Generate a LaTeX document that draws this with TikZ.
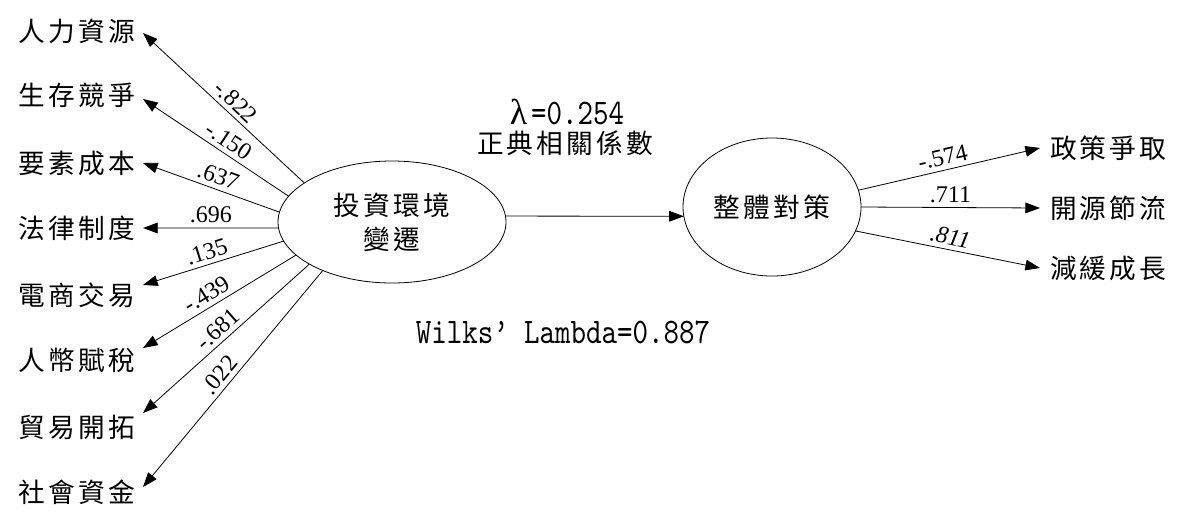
\documentclass[tikz,border=0pt]{standalone}
\usepackage{fontspec}
\setmainfont{Liberation Serif}
\newfontfamily\cjk[LetterSpace=12]{Noto Sans CJK TC}
\newfontfamily\mingmono[FakeStretch=0.82]{lmmono10-regular.otf}
\newfontfamily\greekserif{Liberation Serif}
\usetikzlibrary{arrows.meta,shapes.geometric}
\begin{document}
\begin{tikzpicture}[x=0.75pt,y=-0.75pt,
  every node/.style={outer sep=0pt},
  lbl/.style={font=\cjk\fontsize{20}{24}\selectfont, inner ysep=0pt},
  leftlbl/.style={lbl, anchor=east, inner xsep=6pt},
  rightlbl/.style={lbl, anchor=west, inner xsep=7.5pt},
  blob/.style={draw, ellipse, line width=0.6pt, inner sep=0pt,
    font=\cjk\fontsize{20}{25.5}\selectfont, align=center},
  arr/.style={line width=0.6pt, -{Triangle[length=11pt,width=8pt]}},
  coef/.style={font=\fontsize{18}{18}\selectfont, sloped, above=3.5pt, inner sep=0pt, pos=#1},
  stat/.style={font=\mingmono\fontsize{27}{30}\selectfont, inner sep=0pt},
]
\useasboundingbox (0,0) rectangle (1201,511);
% latent variables
\node[blob, minimum width=171pt, minimum height=91.5pt] (L) at (392,222) {投資環境\\變遷};
\node[blob, minimum width=133.5pt, minimum height=103.5pt] (R) at (772,207) {整體對策};
% left indicators
\node[leftlbl] (l1) at (143,31) {人力資源};
\node[leftlbl] (l2) at (143,95) {生存競爭};
\node[leftlbl] (l3) at (143,163) {要素成本};
\node[leftlbl] (l4) at (143,228) {法律制度};
\node[leftlbl] (l5) at (143,295) {電商交易};
\node[leftlbl] (l6) at (143,360) {人幣賦稅};
\node[leftlbl] (l7) at (143,427) {貿易開拓};
\node[leftlbl] (l8) at (143,492) {社會資金};
% right indicators
\node[rightlbl] (r1) at (1040,148) {政策爭取};
\node[rightlbl] (r2) at (1040,208) {開源節流};
\node[rightlbl] (r3) at (1040,268) {減緩成長};
% left connectors
\draw[arr] (L.156.6) -- node[coef=0.48] {-.822} ([yshift=-1.5pt]l1.east);
\draw[arr] (L.166.6) -- node[coef=0.46] {-.150} ([yshift=-3pt]l2.east);
\draw[arr] (L.175.5) -- node[coef=0.48] {.637} (l3.east);
\draw[arr] (L.183) -- node[coef=0.5] {.696} (l4.east);
\draw[arr] (L.190.3) -- node[coef=0.52] {.135} ([yshift=7.5pt]l5.east);
\draw[arr] (L.199.8) -- node[coef=0.54] {-.439} ([yshift=9pt]l6.east);
\draw[arr] (L.207.6) -- node[coef=0.5] {-.681} ([yshift=10.5pt]l7.east);
\draw[arr] (L.215.5) -- node[coef=0.52] {.022} ([yshift=3.75pt]l8.east);
% right connectors
\draw[arr] (R.11.2) -- node[coef=0.48] {-.574} (r1.west);
\draw[arr] (R.0) -- node[coef=0.5] {.711} (r2.west);
\draw[arr] (R.344) -- node[coef=0.5] {\itshape .811} (r3.west);
% canonical path
\draw[arr] (L.3) -- (R.186);
\node[stat] (lam) at (567,112) {{\greekserif λ}\hspace{3pt}=0.254};
\node[lbl] (cc) at (565,143) {正典相關係數};
\node[stat] (wl) at (563,332) {Wilks’ Lambda=0.887};
\end{tikzpicture}
\end{document}
